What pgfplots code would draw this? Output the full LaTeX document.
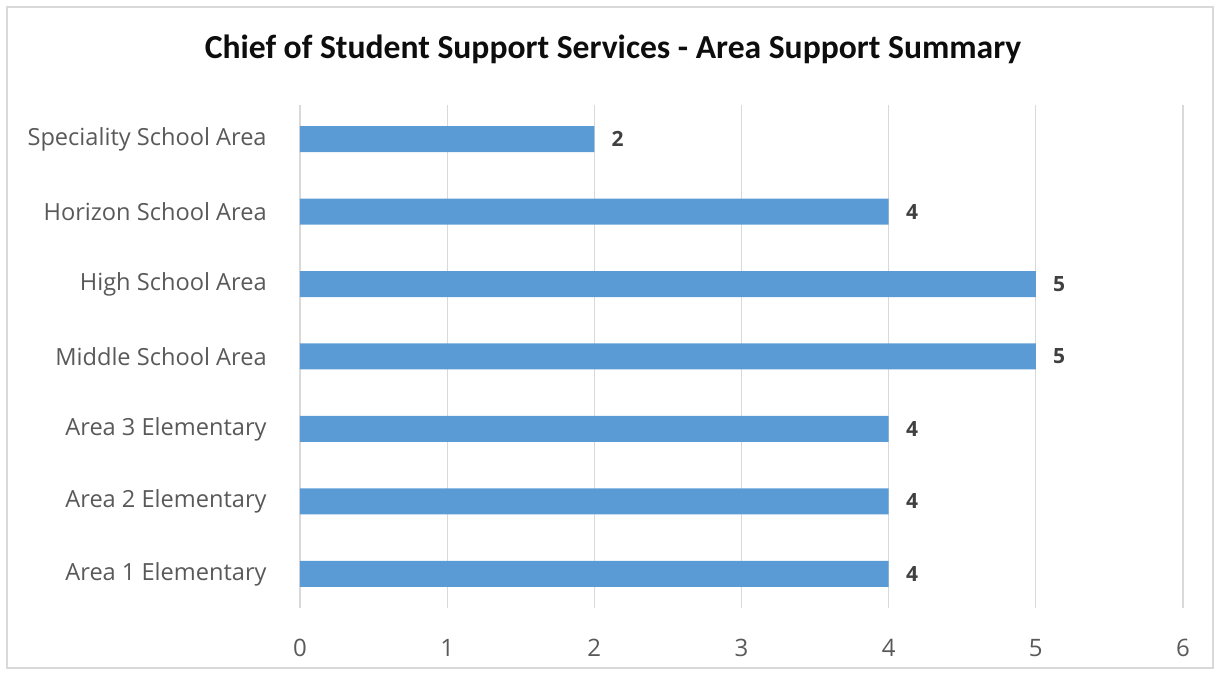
\documentclass[border=0pt]{standalone}
\usepackage{pgfplots}
\pgfplotsset{compat=1.18}
\usepackage{fontspec}
\setmainfont{Open Sans}
\newfontfamily\titlefont{Carlito}
\definecolor{barblue}{HTML}{5B9BD5}
\definecolor{gridgray}{HTML}{D9D9D9}
\definecolor{labgray}{HTML}{595959}
\definecolor{vallab}{HTML}{404040}
\begin{document}
\begin{tikzpicture}[x=1pt,y=1pt]
\useasboundingbox (-150,-33.5) rectangle (459.5,304);
\draw[gridgray, line width=0.7pt] (-146.5,-30) rectangle (456.5,300.5);
\begin{axis}[at={(0,0)}, anchor=south west, scale only axis,
  width=441.5pt, height=251.5pt,
  xbar, xmin=0, xmax=6, ymin=-0.47, ymax=6.47, bar width=13pt,
  axis line style={draw=none},
  xmajorgrids, grid style={gridgray, line width=0.6pt},
  xtick={0,...,6}, ytick={0,...,6},
  yticklabels={Area 1 Elementary, Area 2 Elementary, Area 3 Elementary, Middle School Area, High School Area, Horizon School Area, Speciality School Area},
  major tick length=0pt, tick style={draw=none},
  /pgf/number format/assume math mode=true,
  xticklabel style={font=\fontsize{12}{14}\selectfont, text=labgray, anchor=center, inner sep=0pt, yshift=-20pt},
  yticklabel style={font=\fontsize{11.8}{14}\selectfont, text=labgray, anchor=east, inner sep=0pt, xshift=-16.5pt},
  nodes near coords,
  nodes near coords style={font=\bfseries\fontsize{10.5}{12}\selectfont, text=vallab, anchor=west, inner sep=0pt, xshift=8.5pt},
  clip=false,
]
\addplot[fill=barblue, draw=none] coordinates {(4,0) (4,1) (4,2) (5,3) (5,4) (4,5) (2,6)};
\end{axis}
\node[font=\titlefont\bfseries\fontsize{16.8}{19}\selectfont, text=black!95] at (156.5,279.5) {Chief of Student Support Services - Area Support Summary};
\end{tikzpicture}
\end{document}
